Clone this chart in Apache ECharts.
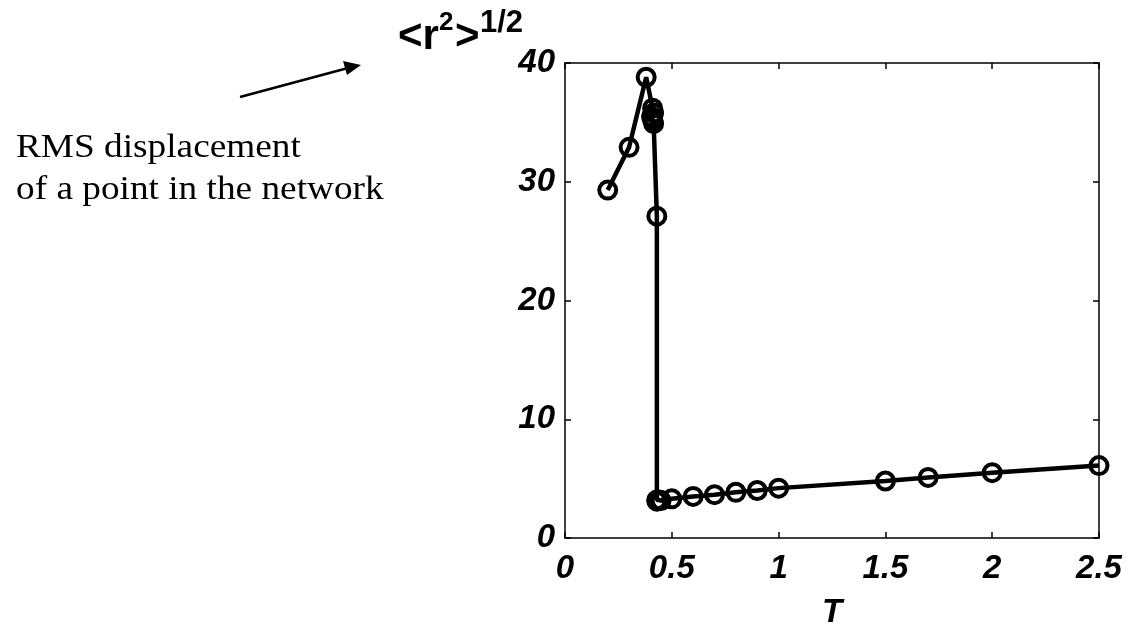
<!DOCTYPE html>
<html>
<head>
<meta charset="utf-8">
<script src="https://cdn.jsdelivr.net/npm/echarts@6/dist/echarts.min.js"></script>
<style>
  html, body { margin: 0; padding: 0; background: #fff; }
  #chart { width: 1132px; height: 634px; }
</style>
</head>
<body>
<div id="chart"></div>
<script>
// Temperature values and RMS displacement <r^2>^(1/2)
const temps = [0.2, 0.3, 0.38, 0.41, 0.415, 0.405, 0.41, 0.415, 0.43, 0.43, 0.43, 0.44, 0.45, 0.5, 0.6, 0.7, 0.8, 0.9, 1.0, 1.5, 1.7, 2.0, 2.5];
const rms   = [29.3, 32.9, 38.8, 36.2, 35.8, 35.5, 35.2, 34.9, 27.1, 3.2, 3.1, 3.2, 3.15, 3.3, 3.5, 3.65, 3.85, 4.0, 4.2, 4.8, 5.1, 5.5, 6.1];
const xTicks = [0, 0.5, 1, 1.5, 2, 2.5];
const yTicks = [0, 10, 20, 30, 40];

const chart = echarts.init(document.getElementById('chart'), null, { renderer: 'canvas' });

const tickFont = {
  fontFamily: 'Liberation Sans, Arial, sans-serif',
  fontStyle: 'italic',
  fontWeight: 'bold',
  fontSize: 33,
  color: '#000'
};

const axisCommon = {
  axisLine: { show: true, onZero: false, lineStyle: { color: '#000', width: 1.5 } },
  axisTick: { show: true, inside: true, length: 6, lineStyle: { color: '#000', width: 1.5 } },
  splitLine: { show: false }
};

const points = temps.map((t, i) => [t, rms[i]]);

chart.setOption({
  animation: false,
  backgroundColor: '#fff',
  grid: { left: 565, right: 33, top: 63, bottom: 86, containLabel: false },
  xAxis: [
    Object.assign({
      type: 'value', min: xTicks[0], max: xTicks[xTicks.length - 1], interval: 0.5,
      position: 'bottom',
      name: 'T', nameLocation: 'middle', nameGap: 58,
      nameTextStyle: Object.assign({}, tickFont),
      axisLabel: Object.assign({ margin: 14, formatter: v => String(v) }, tickFont)
    }, axisCommon),
    Object.assign({
      type: 'value', min: xTicks[0], max: xTicks[xTicks.length - 1], interval: 0.5,
      position: 'top', axisLabel: { show: false }
    }, axisCommon)
  ],
  yAxis: [
    Object.assign({
      type: 'value', min: yTicks[0], max: yTicks[yTicks.length - 1], interval: 10,
      position: 'left',
      axisLabel: Object.assign({ margin: 10 }, tickFont)
    }, axisCommon),
    Object.assign({
      type: 'value', min: yTicks[0], max: yTicks[yTicks.length - 1], interval: 10,
      position: 'right', axisLabel: { show: false }
    }, axisCommon)
  ],
  series: [{
    type: 'line',
    data: points,
    xAxisIndex: 0,
    yAxisIndex: 0,
    symbol: 'circle',
    symbolSize: 17,
    lineStyle: { color: '#000', width: 4.5 },
    itemStyle: { color: 'rgba(0,0,0,0)', borderColor: '#000', borderWidth: 4 },
    z: 3
  }],
  graphic: [
    // axis quantity <r^2>^(1/2)
    { type: 'text', left: 398, top: 16, style: { text: '<r', font: 'bold 42px "Liberation Sans", Arial, sans-serif', fill: '#000' } },
    { type: 'text', left: 439, top: 10, style: { text: '2', font: 'bold 26px "Liberation Sans", Arial, sans-serif', fill: '#000' } },
    { type: 'text', left: 455, top: 16, style: { text: '>', font: 'bold 42px "Liberation Sans", Arial, sans-serif', fill: '#000' } },
    { type: 'text', left: 480, top: 8, style: { text: '1/2', font: 'bold 31px "Liberation Sans", Arial, sans-serif', fill: '#000' } },
    // arrow pointing at the quantity
    { type: 'line', shape: { x1: 240, y1: 97, x2: 348, y2: 68 }, style: { stroke: '#000', lineWidth: 2.5 } },
    { type: 'polygon', shape: { points: [[361, 65], [343, 61], [347, 75]] }, style: { fill: '#000' } },
    // description
    { type: 'text', left: 16, top: 132, scaleX: 1.13, style: { text: 'RMS displacement', font: '33px "Liberation Serif", "Times New Roman", serif', fill: '#000' } },
    { type: 'text', left: 16, top: 174, scaleX: 1.13, style: { text: 'of a point in the network', font: '33px "Liberation Serif", "Times New Roman", serif', fill: '#000' } }
  ]
});
</script>
</body>
</html>
